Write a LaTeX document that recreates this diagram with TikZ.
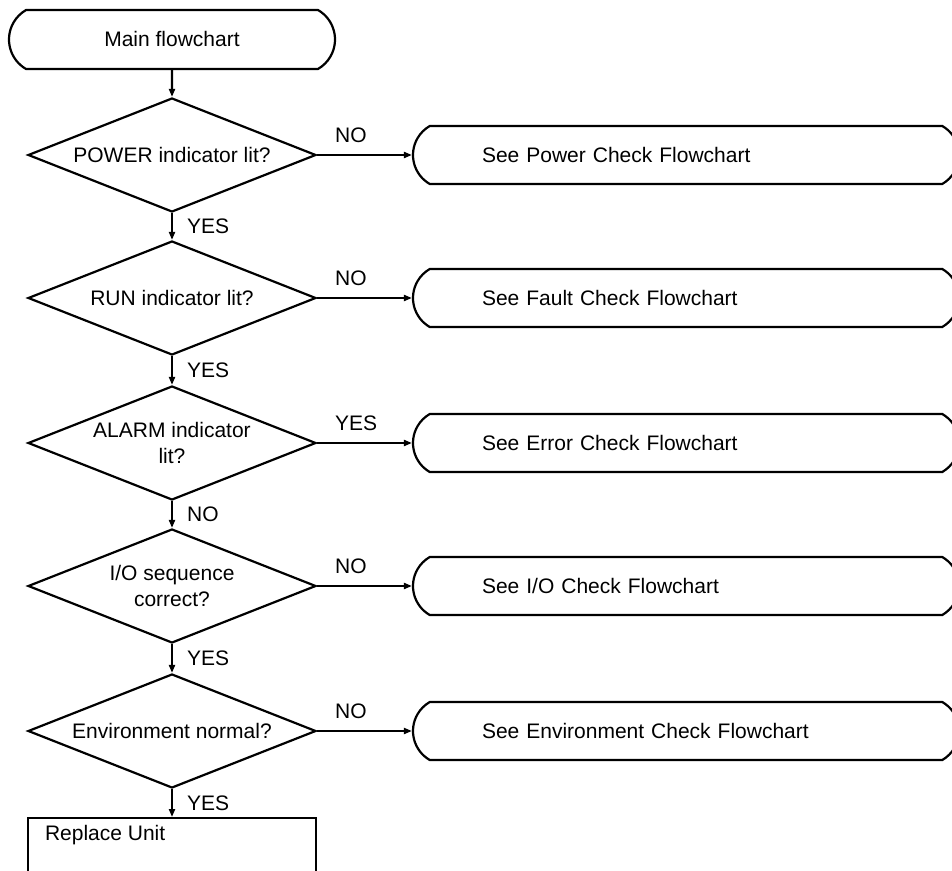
\documentclass[tikz,border=0pt]{standalone}
\usepackage{fontspec}
\setmainfont{Liberation Sans}
\usepackage{tikz}
\usetikzlibrary{arrows.meta,shapes.geometric,shapes.misc,calc}

\begin{document}
\begin{tikzpicture}[x=0.5pt,y=-0.5pt,line width=1.1pt,
  every node/.style={font=\fontsize{10.5}{12.6}\selectfont},
  term/.style={draw,rounded rectangle,rounded rectangle arc length=120,inner sep=0pt},
  decide/.style={draw,diamond,aspect=2.53,inner sep=0pt,minimum width=144pt,minimum height=57pt,align=center},
  seebox/.style={term,minimum width=273pt,minimum height=29pt,text width=204pt,align=left},
  lbl/.style={inner sep=0pt},
  flow/.style={-{Triangle[length=4pt,width=3pt]}}]
  \useasboundingbox (0,0) rectangle (952,871);
  \clip (0,0) rectangle (952,871);
  % main column
  \node[term,minimum width=163pt,minimum height=29.5pt] (main) at (172,39.5) {Main flowchart};
  \node[decide] (power) at (172,155) {POWER indicator lit?};
  \node[decide] (run) at (172,298) {RUN indicator lit?};
  \node[decide] (alarm) at (172,443) {ALARM indicator\\lit?};
  \node[decide] (io) at (172,586) {I/O sequence\\correct?};
  \node[decide] (env) at (172,731) {Environment normal?};
  \node[draw,inner sep=0pt,minimum width=144pt,minimum height=60pt,anchor=north] (unit) at (172,817) {};
  \node[lbl,anchor=west] (unittxt) at ($(unit.north west)+(17,18)$) {Replace Unit};
  % check flowcharts
  \node[seebox] (powerchk) at (686,155) {See Power Check Flowchart};
  \node[seebox] (faultchk) at (686,298) {See Fault Check Flowchart};
  \node[seebox] (errchk) at (686,443) {See Error Check Flowchart};
  \node[seebox] (iochk) at (686,586) {See I/O Check Flowchart};
  \node[seebox] (envchk) at (686,731) {See Environment Check Flowchart};
  % connectors
  \draw[flow] (main) -- (power);
  \draw[flow] (power) -- node[lbl,anchor=west,xshift=7pt] {YES} (run);
  \draw[flow] (run) -- node[lbl,anchor=west,xshift=7pt] {YES} (alarm);
  \draw[flow] (alarm) -- node[lbl,anchor=west,xshift=7pt] {NO} (io);
  \draw[flow] (io) -- node[lbl,anchor=west,xshift=7pt] {YES} (env);
  \draw[flow] (env) -- node[lbl,anchor=west,xshift=7pt] {YES} (unit);
  \draw[flow] (power) -- node[lbl,pos=0,anchor=west,xshift=8.5pt,yshift=10pt] {NO} (powerchk);
  \draw[flow] (run) -- node[lbl,pos=0,anchor=west,xshift=8.5pt,yshift=10pt] {NO} (faultchk);
  \draw[flow] (alarm) -- node[lbl,pos=0,anchor=west,xshift=8.5pt,yshift=10pt] {YES} (errchk);
  \draw[flow] (io) -- node[lbl,pos=0,anchor=west,xshift=8.5pt,yshift=10pt] {NO} (iochk);
  \draw[flow] (env) -- node[lbl,pos=0,anchor=west,xshift=8.5pt,yshift=10pt] {NO} (envchk);
\end{tikzpicture}
\end{document}
